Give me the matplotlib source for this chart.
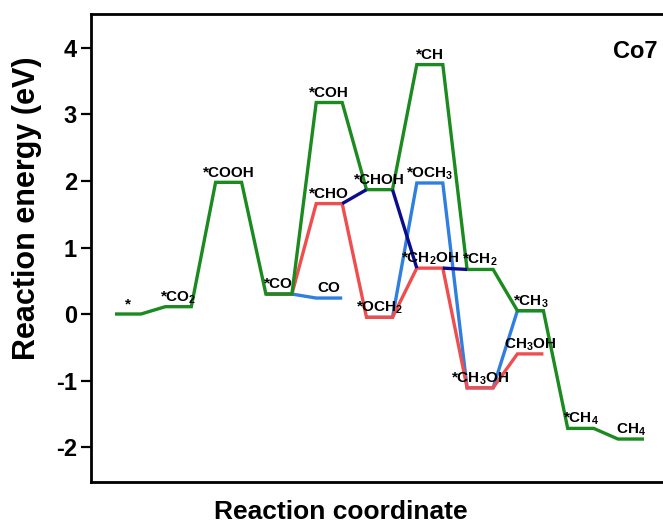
import matplotlib
matplotlib.use("Agg")
import matplotlib.pyplot as plt

plt.rcParams["font.family"] = ["Liberation Sans", "DejaVu Sans"]
plt.rcParams["font.weight"] = "bold"
plt.rcParams["mathtext.default"] = "regular"
plt.rcParams["savefig.bbox"] = None

# Energy levels (eV) along each pathway: (step index, energy)
green_steps = [0, 1, 2, 3, 4, 5, 6, 7, 8, 9, 10]
green_energy = [0.00, 0.11, 1.98, 0.30, 3.18, 1.87, 3.75, 0.67, 0.05, -1.72, -1.88]
green_labels = ["*", "*CO$_2$", "*COOH", "*CO", "*COH", "*CHOH", "*CH",
                "*CH$_2$", "*CH$_3$", "*CH$_4$", "CH$_4$"]

red_steps = [3, 4, 5, 6, 7, 8]
red_energy = [0.30, 1.66, -0.05, 0.69, -1.11, -0.60]
red_labels = [None, "*CHO", "*OCH$_2$", "*CH$_2$OH", "*CH$_3$OH", "CH$_3$OH"]

blue_co_steps = [3, 4]
blue_co_energy = [0.30, 0.24]
blue_co_labels = [None, "CO"]

blue_steps = [5, 6, 7, 8]
blue_energy = [-0.05, 1.97, -1.11, 0.05]
blue_labels = [None, "*OCH$_3$", None, None]

# connectors only (no own levels)
navy_steps = [4, 5, 6, 7]
navy_energy = [1.66, 1.87, 0.69, 0.67]

yticks = [-2, -1, 0, 1, 2, 3, 4]

GREEN = "#1b8a1f"
RED = "#f04e4e"
BLUE = "#2f7fe0"
NAVY = "#0b0b8e"
LEVEL_W = 0.517
LW = 2.4
X_RIGHT_PX = 700

fig = plt.figure(figsize=(6.63, 5.29), dpi=100)
ax = fig.add_axes([91 / 663, 47 / 529, (X_RIGHT_PX - 91) / 663, (482 - 14) / 529])
ax.patch.set_edgecolor("none")


def draw_levels(steps, energy, color, z=2):
    xs, ys = [], []
    for s, e in zip(steps, energy):
        xs += [s, s + LEVEL_W]
        ys += [e, e]
    ax.plot(xs, ys, color=color, lw=LW, solid_joinstyle="miter",
            solid_capstyle="butt", zorder=z)


def draw_connectors(steps, energy, color, z=4):
    for k in range(len(steps) - 1):
        ax.plot([steps[k] + LEVEL_W, steps[k + 1]],
                [energy[k], energy[k + 1]], color=color, lw=LW,
                solid_capstyle="butt", zorder=z)


def label_path(steps, energy, labels):
    for s, e, t in zip(steps, energy, labels):
        if t:
            ax.annotate(t, (s + LEVEL_W / 2, e), xytext=(0, 4.0),
                        textcoords="offset points", ha="center", va="baseline",
                        fontsize=11, fontweight="bold", zorder=6)


draw_levels(blue_co_steps, blue_co_energy, BLUE, z=2)
draw_levels(blue_steps, blue_energy, BLUE, z=2)
draw_levels(red_steps, red_energy, RED, z=3)
draw_connectors(navy_steps, navy_energy, NAVY, z=4)
draw_levels(green_steps, green_energy, GREEN, z=3)

label_path(green_steps, green_energy, green_labels)
label_path(red_steps, red_energy, red_labels)
label_path(blue_co_steps, blue_co_energy, blue_co_labels)
label_path(blue_steps, blue_energy, blue_labels)

ax.set_xlim((91 - 115) / 50.3, (X_RIGHT_PX - 115) / 50.3)
ax.set_ylim(-2.526, 4.511)
ax.set_xticks([])
ax.set_yticks(yticks)
ax.set_yticklabels([str(v) for v in yticks], fontsize=17, fontweight="bold")
ax.tick_params(axis="y", direction="out", length=7, width=1.6, pad=3)
for sp in ax.spines.values():
    sp.set_linewidth(2.0)
ax.spines["right"].set_visible(False)

fig.text(27 / 663, 1 - 208 / 529, "Reaction energy (eV)", rotation=90,
         ha="center", va="center", fontsize=22, fontweight="bold")
fig.text(341 / 663, 1 - 512 / 529, "Reaction coordinate",
         ha="center", va="center", fontsize=19, fontweight="bold")
fig.text(635 / 663, 1 - 52 / 529, "Co7", ha="center", va="center",
         fontsize=17, fontweight="bold")

fig.savefig("out.png", dpi=100, bbox_inches=None)
